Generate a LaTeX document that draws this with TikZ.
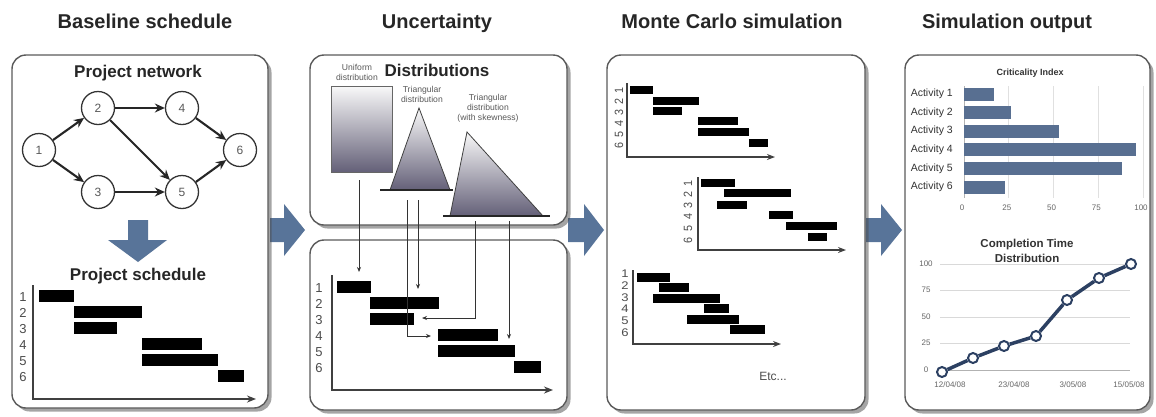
\documentclass[tikz,border=0pt]{standalone}
\usepackage{fontspec}
\setmainfont{Liberation Sans}
\usetikzlibrary{arrows.meta,shadows,calc}
\definecolor{steel}{RGB}{88,116,153}
\definecolor{barblue}{RGB}{88,111,145}
\definecolor{navy}{RGB}{44,64,98}
\definecolor{framegray}{RGB}{90,90,90}
\definecolor{distdark}{RGB}{100,96,120}
\begin{document}
\begin{tikzpicture}[x=1pt,y=-1pt,
  title/.style={font=\bfseries\fontsize{20}{22}\selectfont,text=black!85,anchor=base,inner sep=0},
  subtitle/.style={font=\bfseries\fontsize{17}{19}\selectfont,text=black!85,anchor=base,inner sep=0},
  panel/.style={draw=framegray,line width=1.4pt,rounded corners=14pt,fill=white,
    drop shadow={shadow xshift=3.5pt,shadow yshift=-3.5pt,opacity=0.5,fill=black!70}},
  nd/.style={circle,draw=black!80,line width=1.3pt,minimum size=33pt,inner sep=0,fill=white,
    font=\fontsize{12}{12}\selectfont,text=black!65},
  netarrow/.style={line width=2.1pt,black!85,-{Stealth[length=10pt,width=9pt]}},
  axis/.style={line width=1.5pt,black!75,-{Stealth[length=9pt,width=7pt]}},
  saxis/.style={line width=1.3pt,black!75,-{Stealth[length=8pt,width=6pt]}},
  glab/.style={font=\fontsize{13}{13}\selectfont,text=black!70,inner sep=0},
  rlab/.style={font=\fontsize{12}{12}\selectfont,text=black!70,inner sep=0,rotate=90,xscale=0.9},
  tiny/.style={font=\fontsize{8.6}{10}\selectfont,text=black!65,align=center,inner sep=0},
  link/.style={line width=0.9pt,black!80,-{Stealth[length=5pt,width=4pt]}},
  dist/.style={top color=gray!5,bottom color=distdark},
  chtitle/.style={font=\bfseries\fontsize{9}{11}\selectfont,text=black!80,align=center,inner sep=0},
  actlab/.style={font=\fontsize{10.5}{10.5}\selectfont,text=black!80,anchor=east,inner sep=0},
  ticklab/.style={font=\fontsize{8}{8}\selectfont,text=black!60,inner sep=0},
  mk/.style={circle,draw=navy,line width=2pt,fill=white,minimum size=10pt,inner sep=0}
]
\useasboundingbox (0,0) rectangle (1156,416);

% ---------- titles
\node[title] (t1) at (145,28) {Baseline schedule};
\node[title] (t2) at (437,28) {Uncertainty};
\node[title] (t3) at (732,28) {Monte Carlo simulation};
\node[title] (t4) at (1007,28) {Simulation output};

% ---------- block arrows between panels
\fill[steel] (270,218) -- (284,218) -- (284,204) -- (305,230) -- (284,256) -- (284,242) -- (270,242) -- cycle;
\fill[steel] (568,218) -- (584,218) -- (584,204) -- (604,230) -- (584,256) -- (584,242) -- (568,242) -- cycle;
\fill[steel] (866,218) -- (881,218) -- (881,204) -- (902,230) -- (881,256) -- (881,242) -- (866,242) -- cycle;

% ---------- panels
\draw[panel] (12,55) rectangle (268,408);
\draw[panel] (310,55) rectangle (567,225);
\draw[panel] (310,240) rectangle (567,410);
\draw[panel] (607,55) rectangle (865,410);
\draw[panel] (905,55) rectangle (1150,410);

% ---------- panel 1: project network
\node[subtitle] (pn) at (138,77) {Project network};
\node[nd] (n1) at (39,150) {1};
\node[nd] (n2) at (98,108) {2};
\node[nd] (n3) at (98,192) {3};
\node[nd] (n4) at (182,108) {4};
\node[nd] (n5) at (182,192) {5};
\node[nd] (n6) at (240,150) {6};
\draw[netarrow] (n1) -- (n2);
\draw[netarrow] (n1) -- (n3);
\draw[netarrow] (n2) -- (n4);
\draw[netarrow] (n2) -- (n5);
\draw[netarrow] (n3) -- (n5);
\draw[netarrow] (n4) -- (n6);
\draw[netarrow] (n5) -- (n6);

% down arrow
\fill[steel] (128,220) -- (148,220) -- (148,240) -- (167,240) -- (138,262) -- (108,240) -- (128,240) -- cycle;
\node[subtitle] (ps) at (138,280) {Project schedule};

% gantt 1
\coordinate (g1top) at (33,285);
\coordinate (g1o) at (33,399);
\coordinate (g1end) at (256,399);
\draw[axis] (g1top) -- (g1o) -- (g1end);
\foreach \n/\yy in {1/297,2/313,3/329,4/345,5/361,6/377}
  \node[glab] (ga\n) at (23,\yy) {\n};
\foreach \a/\b/\c in {39/74/296,74/142/312,74/117/328,142/202/344,142/218/360,218/244/376}
  \fill[black] (\a,\c-6) rectangle (\b,\c+6);

% ---------- panel 2: distributions
\node[subtitle] (dt) at (437,76) {Distributions};
\node[tiny] (ud) at (357,72) {Uniform\\distribution};
\node[tiny] (td) at (422,94) {Triangular\\distribution};
\node[tiny] (sd) at (488,108) {Triangular\\distribution\\(with skewness)};
\shade[dist] (331,86) rectangle (392,172);
\draw[black!60,line width=0.8pt] (331,86) rectangle (392,172);
\shade[dist] (419,108) -- (450,190) -- (390,190) -- cycle;
\draw[black!75,line width=0.8pt] (419,108) -- (450,190) -- (390,190) -- cycle;
\draw[black!85,line width=1.6pt] (380,190) -- (453,190);
\shade[dist] (467,132) -- (543,216) -- (450,216) -- cycle;
\draw[black!75,line width=0.8pt] (467,132) -- (543,216) -- (450,216) -- cycle;
\draw[black!85,line width=1.6pt] (443,216) -- (550,216);

% gantt 2
\coordinate (g2top) at (332,275);
\coordinate (g2o) at (332,390);
\coordinate (g2end) at (553,390);
\draw[axis] (g2top) -- (g2o) -- (g2end);
\foreach \n/\yy in {1/288,2/304,3/320,4/336,5/352,6/368}
  \node[glab] (gb\n) at (319,\yy) {\n};
\foreach \a/\b/\c in {337/371/287,370/439/303,370/414/319,438/498/335,438/515/351,514/541/367}
  \fill[black] (\a,\c-6) rectangle (\b,\c+6);

% links from distributions to schedule
\coordinate (l1s) at (359,180); \coordinate (l1e) at (359,272);
\coordinate (l2s) at (407,200); \coordinate (l2e) at (431,336);
\coordinate (l3s) at (418,200); \coordinate (l3e) at (418,289);
\coordinate (l4s) at (475,221); \coordinate (l4e) at (422,318);
\coordinate (l5s) at (509,221); \coordinate (l5e) at (509,339);
\draw[link] (l1s) -- (l1e);
\draw[link] (l2s) |- (l2e);
\draw[link] (l3s) -- (l3e);
\draw[link] (l4s) |- (l4e);
\draw[link] (l5s) -- (l5e);

% ---------- panel 3: Monte Carlo
% gantt A
\coordinate (gAtop) at (627,83);
\coordinate (gAo) at (627,157);
\coordinate (gAend) at (775,157);
\draw[saxis] (gAtop) -- (gAo) -- (gAend);
\foreach \n/\yy in {1/90,2/101,3/112,4/123,5/134,6/145}
  \node[rlab] (gcA\n) at (619,\yy) {\n};
\foreach \a/\b/\c in {630/653/90,653/699/101,653/682/111,698/738/121,698/749/132,749/768/143}
  \fill[black] (\a,\c-4) rectangle (\b,\c+4);
% gantt B
\coordinate (gBtop) at (698,177);
\coordinate (gBo) at (698,250);
\coordinate (gBend) at (846,250);
\draw[saxis] (gBtop) -- (gBo) -- (gBend);
\foreach \n/\yy in {1/183,2/194,3/205,4/216,5/228,6/240}
  \node[rlab] (gcB\n) at (688,\yy) {\n};
\foreach \a/\b/\c in {701/735/183,724/791/193,717/747/205,769/793/215,786/837/226,808/827/237}
  \fill[black] (\a,\c-4) rectangle (\b,\c+4);
% gantt C
\coordinate (gCtop) at (633,270);
\coordinate (gCo) at (633,344);
\coordinate (gCend) at (781,344);
\draw[saxis] (gCtop) -- (gCo) -- (gCend);
\foreach \n/\yy in {1/274,2/286,3/298,4/309,5/321,6/333}
  \node[glab,yscale=0.85] (gcC\n) at (625,\yy) {\n};
\foreach \a/\b/\c in {637/670/277,659/689/287,653/720/298,704/729/308,687/739/319,730/765/329}
  \fill[black] (\a,\c-4.5) rectangle (\b,\c+4.5);
\node[font=\fontsize{12}{12}\selectfont,text=black!70,inner sep=0] (etc) at (773,376) {Etc...};

% ---------- panel 4: outputs
\node[chtitle] (ci) at (1030,73) {Criticality Index};
\foreach \v in {25,50,75,100}
  \draw[black!12,line width=0.8pt] ({964+1.79*\v},86) -- ({964+1.79*\v},198);
\draw[black!30,line width=0.8pt] (964,86) -- (964,198);
\foreach \i/\v in {1/17,2/26,3/53,4/96,5/88,6/23} {
  \fill[barblue] (964,{94+18.6*(\i-1)-6.5}) rectangle ({964+1.79*\v},{94+18.6*(\i-1)+6.5});
  \node[actlab] (act\i) at (953,{94+18.6*(\i-1)}) {Activity \i};
}
\foreach \v in {0,25,50,75,100}
  \node[ticklab] (ct\v) at ({962+1.79*\v},208) {\v};

\node[chtitle,font=\bfseries\fontsize{11.5}{15}\selectfont] (ctd) at (1027,251) {Completion Time\\Distribution};
\foreach \v/\yy in {100/264,75/290,50/317,25/343}
  \draw[black!15,line width=1pt] (940,\yy) -- (1130,\yy);
\draw[black!30,line width=1pt] (940,370) -- (1130,370);
\foreach \v/\yy in {100/264,75/290,50/317,25/343,0/370}
  \node[ticklab] (cy\v) at (926,\yy) {\v};
\node[ticklab] (cx1) at (950,385) {12/04/08};
\node[ticklab] (cx2) at (1014,385) {23/04/08};
\node[ticklab] (cx3) at (1073,385) {3/05/08};
\node[ticklab] (cx4) at (1129,385) {15/05/08};
\node[mk] (p1) at (942,372) {};
\node[mk] (p2) at (973,358) {};
\node[mk] (p3) at (1004,346) {};
\node[mk] (p4) at (1036,336) {};
\node[mk] (p5) at (1067,300) {};
\node[mk] (p6) at (1099,278) {};
\node[mk] (p7) at (1131,264) {};
\draw[navy,line width=3.5pt] (p1) -- (p2) (p2) -- (p3) (p3) -- (p4) (p4) -- (p5) (p5) -- (p6) (p6) -- (p7);
\end{tikzpicture}
\end{document}
